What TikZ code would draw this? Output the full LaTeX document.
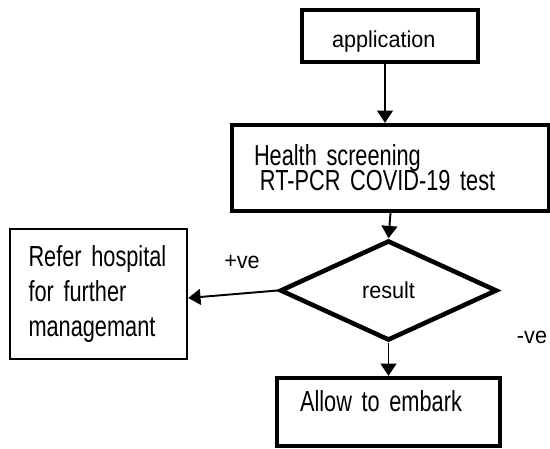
\documentclass[tikz,border=0pt]{standalone}
\usepackage{fontspec}
\setmainfont{Liberation Sans}[FakeStretch=0.75]
\newfontfamily\narrowfont{Liberation Sans}[FakeStretch=0.94]
\usetikzlibrary{shapes.geometric, arrows.meta, positioning}
\newcommand{\bigtext}{\fontsize{16.5}{19.8}\selectfont\spaceskip=3.4pt\relax}
\newcommand{\smalltext}{\narrowfont\fontsize{13.1}{15.7}\selectfont\spaceskip=3.4pt\relax}
\tikzset{
	box/.style={rectangle, draw, line width=2.4pt, align=left, inner ysep=0pt, font=\bigtext},
	decision/.style={diamond, draw, line width=2.6pt, inner sep=0pt, minimum width=4.34cm, minimum height=2cm, font=\smalltext},
	tag/.style={font=\smalltext},
	arrow/.style={line width=1.1pt,-{Triangle[width=9pt,length=7pt]}}
}
\begin{document}
\begin{tikzpicture}
			\useasboundingbox (0,0) rectangle (11,8.98);
			% Nodes
			\node (app) [box, font=\smalltext, minimum height=1.04cm, text width=2.32cm, inner xsep=0.6cm, text height=0.48cm, text depth=0cm] at (7.80,8.26) {application};
			\node (screen) [box, minimum height=1.72cm, text width=5.46cm, inner xsep=0.44cm] at (7.81,5.62) {Health screening\\[-5.6pt]\hspace*{3.4pt}RT-PCR COVID-19 test};
			\node (res) [decision] at (7.77,3.17) {result};
			\node (refer) [box, line width=1.4pt, minimum height=2.6cm, text width=2.8cm, inner xsep=0.37cm] at (1.97,3.10) {Refer hospital\\for further\\managemant};
			\node (allow) [box, minimum height=1.36cm, text width=3.54cm, inner xsep=0.46cm, text depth=0.46cm] at (7.77,0.74) {Allow to embark};
			\node (pos) [tag] at (4.84,3.74) {+ve};
			\node (neg) [tag] at (10.64,2.24) {-ve};
			
			% Arrows
			\draw [arrow] ([xshift=-0.1cm]app.south) -- ([xshift=-0.1cm]app.south |- screen.north);
			\draw [arrow] (screen.south) -- (res.north);
			\draw [arrow] (res.west) -- ([yshift=-0.08cm]refer.east);
			\draw [arrow] (res.south) -- (allow.north);
		\end{tikzpicture}
\end{document}
